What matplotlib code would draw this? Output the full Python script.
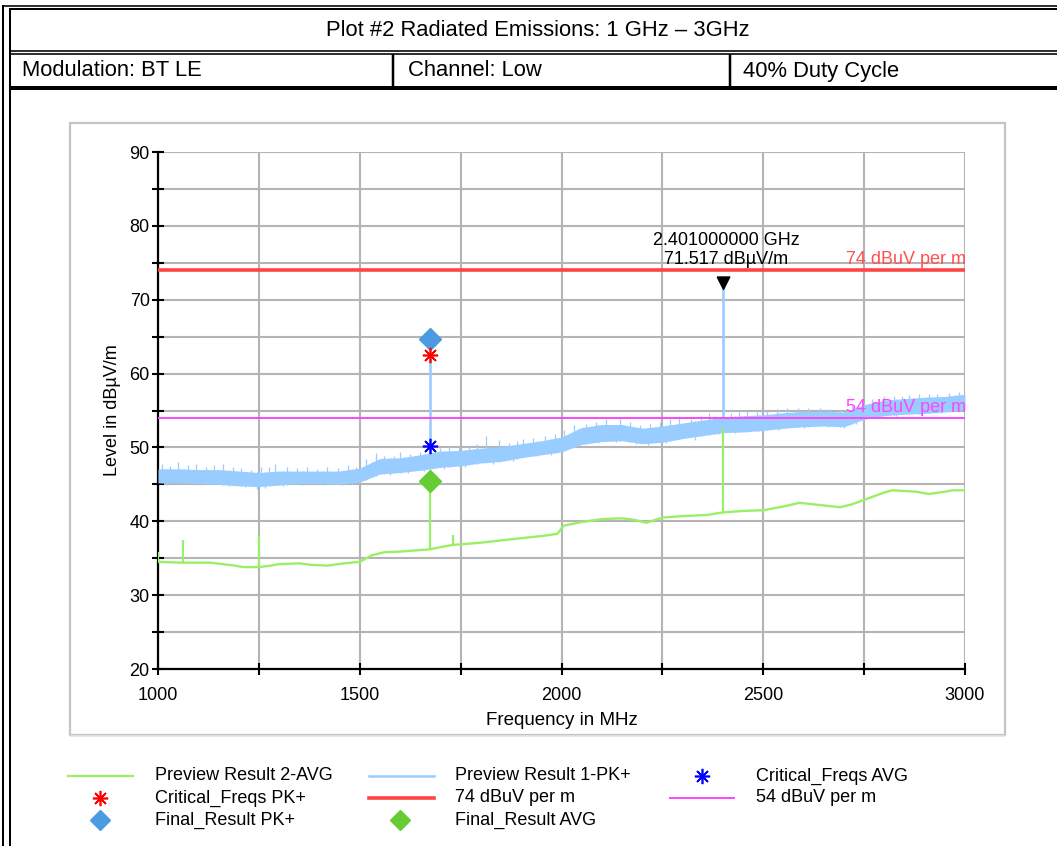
import matplotlib
matplotlib.use('Agg')

import numpy as np
import matplotlib.pyplot as plt
import matplotlib.font_manager as fm
from matplotlib.lines import Line2D
from matplotlib.patches import Rectangle
from matplotlib.ticker import MultipleLocator

# --- measured data (MHz, dBuV/m) ---
# peak detector trace, given as the min/max envelope of the noise floor
pk_freq = [1000, 1050, 1100, 1150, 1200, 1250, 1300, 1350, 1400, 1450,
           1500, 1550, 1600, 1650, 1700, 1750, 1800, 1850, 1900, 1950,
           2000, 2050, 2100, 2150, 2200, 2250, 2300, 2350, 2400, 2450,
           2500, 2550, 2600, 2650, 2700, 2750, 2800, 2850, 2900, 2950, 3000]
pk_low = [45.2, 45.2, 45.1, 45.0, 44.8, 44.7, 44.9, 45.1, 45.1, 45.0,
          45.3, 46.4, 46.6, 46.9, 47.3, 47.5, 47.9, 48.1, 48.6, 49.0,
          49.4, 50.4, 50.8, 50.9, 50.5, 50.7, 51.2, 51.6, 52.0, 52.1,
          52.3, 52.6, 52.8, 52.9, 52.8, 53.8, 54.3, 54.5, 54.6, 54.8, 55.1]
pk_high = [47.1, 47.1, 47.0, 47.0, 46.8, 46.6, 46.8, 46.8, 46.8, 46.8,
           47.2, 48.5, 48.6, 49.0, 49.5, 49.6, 49.9, 50.1, 50.5, 50.9,
           51.4, 52.7, 53.1, 53.1, 52.6, 52.9, 53.3, 53.7, 54.1, 54.3,
           54.4, 54.7, 54.9, 54.9, 54.8, 55.8, 56.4, 56.6, 56.8, 56.9, 57.2]

# narrow excursions above and below the envelope
pk_up_freq = [1010, 1030, 1050, 1075, 1095, 1120, 1140, 1160, 1185, 1205,
              1230, 1255, 1275, 1290, 1320, 1345, 1370, 1395, 1420, 1445,
              1470, 1490, 1515, 1540, 1560, 1585, 1600, 1625, 1650, 1700,
              1720, 1745, 1770, 1790, 1813, 1845, 1870, 1890, 1905, 1930,
              1960, 1985, 2005, 2030, 2060, 2085, 2110, 2145, 2170, 2195,
              2220, 2245, 2270, 2290, 2320, 2345, 2365, 2380, 2420, 2440,
              2460, 2485, 2510, 2535, 2560, 2585, 2610, 2640, 2665, 2690,
              2720, 2745, 2770, 2800, 2825, 2845, 2860, 2885, 2910, 2930,
              2960, 2985]
pk_up_top = [47.8, 47.5, 48.0, 47.6, 47.7, 47.4, 47.6, 47.8, 47.3, 47.2,
             47.0, 47.3, 47.4, 47.7, 47.3, 47.2, 47.4, 47.1, 47.3, 47.2,
             47.6, 47.4, 48.4, 49.2, 48.9, 48.8, 49.4, 49.1, 49.4, 49.9,
             50.2, 50.0, 50.2, 50.4, 51.5, 51.0, 50.6, 50.9, 51.2, 51.3,
             51.5, 51.8, 52.4, 53.0, 53.2, 53.5, 53.8, 53.9, 53.4, 53.0,
             53.2, 53.5, 53.8, 54.2, 53.9, 54.2, 54.6, 54.3, 54.7, 54.8,
             55.0, 54.8, 55.0, 55.2, 55.3, 55.4, 55.3, 55.4, 55.2, 55.1,
             55.6, 56.2, 56.5, 57.0, 56.9, 57.0, 57.1, 57.2, 57.2, 57.3,
             57.4, 57.5]
pk_dip_freq = [1020, 1065, 1110, 1175, 1215, 1245, 1265, 1310, 1360, 1410,
               1455, 1480, 1530, 1575, 1620, 1660, 1710, 1760, 1830, 1880,
               1940, 1975, 2040, 2090, 2135, 2185, 2215, 2260, 2330, 2390,
               2430, 2490, 2540, 2600, 2660, 2700, 2730, 2780, 2830, 2890,
               2940, 2975]
pk_dip_low = [44.9, 45.0, 44.9, 44.8, 44.6, 44.4, 44.5, 44.8, 44.9, 44.9,
              44.9, 45.0, 46.0, 46.3, 46.5, 46.8, 47.1, 47.3, 47.8, 48.2,
              48.8, 49.0, 50.2, 50.6, 50.7, 50.4, 50.3, 50.6, 51.0, 51.8,
              51.9, 52.2, 52.4, 52.6, 52.7, 52.6, 53.2, 54.0, 54.2, 54.4,
              54.6, 54.9]

# emissions found by the scan
pk_peak_freq = [1674, 2401]
pk_peak_level = [62.5, 71.517]

avg_freq = [1000, 1060, 1100, 1130, 1160, 1190, 1210, 1250, 1280, 1300,
            1350, 1380, 1420, 1460, 1500, 1530, 1560, 1600, 1650, 1674,
            1700, 1730, 1800, 1864, 1950, 1990, 2005, 2050, 2100, 2150,
            2180, 2210, 2250, 2300, 2360, 2400, 2450, 2500, 2550, 2590,
            2640, 2690, 2720, 2760, 2800, 2820, 2880, 2910, 2950, 2970, 3000]
avg_level = [34.5, 34.4, 34.4, 34.4, 34.2, 34.0, 33.8, 33.8, 34.0, 34.2,
             34.3, 34.1, 34.0, 34.3, 34.5, 35.4, 35.8, 35.9, 36.1, 36.2,
             36.5, 36.8, 37.1, 37.5, 38.0, 38.3, 39.4, 39.9, 40.3, 40.4,
             40.2, 39.8, 40.5, 40.7, 40.85, 41.2, 41.4, 41.5, 42.0, 42.5,
             42.2, 41.9, 42.3, 43.1, 43.9, 44.2, 44.0, 43.7, 44.0, 44.2, 44.2]

avg_spike_freq = [1000, 1062, 1250, 1674, 1730, 2401]
avg_spike_base = [34.5, 34.4, 33.8, 36.2, 36.8, 41.2]
avg_spike_top = [35.8, 37.5, 38.0, 45.5, 38.1, 52.6]

crit_freq = [1674]
crit_pk = [62.5]
crit_avg = [50.2]
final_freq = [1674]
final_pk = [64.7]
final_avg = [45.5]

limit_pk = 74
limit_avg = 54
marker_freq = 2401.0
marker_level = 71.517

C_AVG = '#99f066'
C_PK = '#99ccff'
C_RED = '#ff4444'
C_MAG = '#ff44ff'


def pick_font(*names):
    for n in names:
        try:
            fm.findfont(n, fallback_to_default=False)
            return n
        except ValueError:
            pass
    return 'DejaVu Sans'


SANS = pick_font('Liberation Sans', 'Arial', 'DejaVu Sans')
NARROW = pick_font('Liberation Sans Narrow', 'Arial Narrow')
narrow_ok = NARROW != 'DejaVu Sans'
head_size = 18.5 if narrow_ok else 15.8
if not narrow_ok:
    NARROW = SANS

plt.rcParams['font.family'] = [SANS, 'DejaVu Sans']

W, H = 1057, 846
fig = plt.figure(figsize=(W / 100, H / 100), dpi=100)

# page furniture in pixel coordinates
page = fig.add_axes([0, 0, 1, 1], zorder=0)
page.set_xlim(0, W)
page.set_ylim(H, 0)
page.axis('off')


def hline(y, x0, x1, lw_px):
    page.add_line(Line2D([x0, x1], [y, y], color='black', lw=lw_px * 0.72,
                         solid_capstyle='butt'))


def vline(x, y0, y1, lw_px):
    page.add_line(Line2D([x, x], [y0, y1], color='black', lw=lw_px * 0.72,
                         solid_capstyle='butt'))


hline(5.6, 2, W, 1.6)
hline(9.0, 9, W, 2)
hline(51.0, 9, W, 1.6)
hline(54.2, 9, W, 1.6)
hline(88.0, 9, W, 4)
vline(3, 4.8, H, 2)
vline(10, 8, H, 2)
vline(392.5, 54, 86, 2.5)
vline(729.5, 54, 86, 2.5)

page.text(538, 31, 'Plot #2 Radiated Emissions: 1 GHz \u2013 3GHz', ha='center',
          va='center', fontsize=head_size, family=NARROW)
for x, s in [(22, 'Modulation: BT LE'), (408, 'Channel: Low'), (743, '40% Duty Cycle')]:
    page.text(x, 71, s, ha='left', va='center', fontsize=head_size, family=NARROW)

# chart panel
page.add_patch(Rectangle((70, 123), 935, 612, fill=False, ec='#c4c4c4', lw=1.6))
page.add_line(Line2D([71, 1004], [736.5, 736.5], color='#e4e4e4', lw=1.2))

# legend
LG = 13
page.add_line(Line2D([68, 133], [776, 776], color=C_AVG, lw=1.6))
page.text(155, 776, 'Preview Result 2-AVG', va='center', fontsize=LG)
page.plot([100], [798], ls='none', marker=(8, 2, 0), ms=11, mec='red', mew=1.2)
page.text(155, 798, 'Critical_Freqs PK+', va='center', fontsize=LG)
page.plot([100], [820], ls='none', marker='D', ms=10, mfc='#4a9be0', mec='#4a9be0')
page.text(155, 820, 'Final_Result PK+', va='center', fontsize=LG)

page.add_line(Line2D([369, 434], [776, 776], color=C_PK, lw=1.8))
page.text(455, 776, 'Preview Result 1-PK+', va='center', fontsize=LG)
page.add_line(Line2D([369, 434], [798, 798], color=C_RED, lw=2.6))
page.text(455, 798, '74 dBuV per m', va='center', fontsize=LG)
page.plot([400], [820], ls='none', marker='D', ms=10, mfc='#66cc33', mec='#66cc33')
page.text(455, 820, 'Final_Result AVG', va='center', fontsize=LG)

page.plot([702], [776], ls='none', marker=(8, 2, 0), ms=11, mec='#0000ff', mew=1.2)
page.text(756, 776, 'Critical_Freqs AVG', va='center', fontsize=LG)
page.add_line(Line2D([670, 734], [798, 798], color=C_MAG, lw=1.4))
page.text(756, 798, '54 dBuV per m', va='center', fontsize=LG)

# main axes
ax = fig.add_axes([158 / W, 1 - 669 / H, 807 / W, 517 / H], zorder=2)
ax.set_xlim(1000, 3000)
ax.set_ylim(20, 90)

ax.fill_between(pk_freq, pk_low, pk_high, color=C_PK, lw=0, zorder=3)
ax.vlines(pk_up_freq, np.interp(pk_up_freq, pk_freq, pk_low), pk_up_top,
          color=C_PK, lw=0.9, zorder=3)
ax.vlines(pk_dip_freq, pk_dip_low, np.interp(pk_dip_freq, pk_freq, pk_high),
          color=C_PK, lw=0.9, zorder=3)
ax.vlines(pk_peak_freq, np.interp(pk_peak_freq, pk_freq, pk_low), pk_peak_level,
          color=C_PK, lw=1.9, zorder=3)

ax.plot(avg_freq, avg_level, color=C_AVG, lw=1.7, zorder=4)
ax.vlines(avg_spike_freq, avg_spike_base, avg_spike_top, color=C_AVG, lw=1.6, zorder=4)

ax.axhline(limit_pk, color=C_RED, lw=2.6, zorder=5)
ax.axhline(limit_avg, color=C_MAG, lw=1.4, zorder=5)
ax.text(3003, limit_pk + 0.3, '74 dBuV per m', color='#ff5050', ha='right',
        va='bottom', fontsize=13, zorder=6, clip_on=False)
ax.text(3003, limit_avg + 0.3, '54 dBuV per m', color=C_MAG, ha='right',
        va='bottom', fontsize=13, zorder=6, clip_on=False)

ax.plot(final_freq, final_pk, ls='none', marker='D', ms=11, mfc='#4a9be0',
        mec='#4a9be0', zorder=7)
ax.plot(final_freq, final_avg, ls='none', marker='D', ms=11, mfc='#66cc33',
        mec='#66cc33', zorder=7)
ax.plot(crit_freq, crit_pk, ls='none', marker=(8, 2, 0), ms=11, mec='red',
        mew=1.2, zorder=8)
ax.plot(crit_freq, crit_avg, ls='none', marker=(8, 2, 0), ms=11, mec='#0000ff',
        mew=1.2, zorder=8)

# peak marker: triangle tip sits on the level
tri = [(-0.5, 1.0), (0.5, 1.0), (0.0, 0.0), (-0.5, 1.0)]
ax.plot([marker_freq], [marker_level], ls='none', marker=tri, ms=18,
        mfc='black', mec='black', zorder=8)
ax.annotate(f'{marker_freq / 1000:.9f} GHz\n{marker_level:.3f} dB\u00b5V/m',
            xy=(marker_freq, marker_level), xytext=(2, 15), textcoords='offset points',
            ha='center', va='bottom', fontsize=13, linespacing=1.1, zorder=9)

ax.xaxis.set_major_locator(MultipleLocator(500))
ax.xaxis.set_minor_locator(MultipleLocator(250))
ax.yaxis.set_major_locator(MultipleLocator(10))
ax.yaxis.set_minor_locator(MultipleLocator(5))
ax.grid(True, which='both', color='#b4b4b4', lw=1.5, zorder=1)
ax.set_axisbelow(True)
for side in ('top', 'right'):
    ax.spines[side].set_visible(False)
for side in ('left', 'bottom'):
    ax.spines[side].set_linewidth(1.6)
ax.tick_params(which='both', direction='inout', length=8, width=1.5)
ax.tick_params(axis='x', pad=9, labelsize=13)
ax.tick_params(axis='y', pad=2, labelsize=13)

ax.set_xlabel('Frequency in MHz', fontsize=13.5, labelpad=6)
ax.set_ylabel('Level in dB\u00b5V/m', fontsize=13, labelpad=6)

fig.savefig('out.png', dpi=100, facecolor='white')
